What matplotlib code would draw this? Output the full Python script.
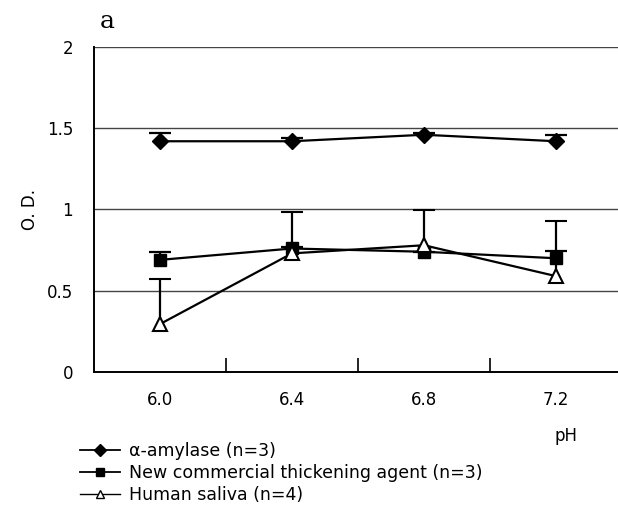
import matplotlib
matplotlib.use('Agg')
import matplotlib.pyplot as plt
from matplotlib.lines import Line2D
import numpy as np

# Daten
ph_werte = ['6.0', '6.4', '6.8', '7.2']
amylase = [1.42, 1.42, 1.46, 1.42]
amylase_err = [0.05, 0.02, 0.01, 0.04]
verdicker = [0.69, 0.76, 0.74, 0.70]
verdicker_err = [0.05, 0.01, 0.0, 0.045]
speichel = [0.295, 0.73, 0.78, 0.59]
speichel_err = [0.28, 0.255, 0.215, 0.34]

plt.rcParams['font.family'] = ['DejaVu Sans']

fig = plt.figure(figsize=(6.18, 5.07), dpi=100)
ax = fig.add_axes([94 / 618, (507 - 372) / 507, 528 / 618, 325 / 507])

x = np.arange(len(ph_werte))

# horizontale Gitterlinien
for yv in [0.5, 1.0, 1.5, 2.0]:
    ax.axhline(yv, color='#444444', lw=1.0, zorder=1)

kw = dict(color='black', lw=1.6, ecolor='black', elinewidth=1.6,
          capsize=8, capthick=1.6, zorder=3)
serien = [
    (amylase, amylase_err, dict(marker='D', ms=8, mfc='black', mec='black')),
    (verdicker, verdicker_err, dict(marker='s', ms=8, mfc='black', mec='black')),
    (speichel, speichel_err, dict(marker='^', ms=10, mfc='white', mec='black',
                                  mew=1.5)),
]
for werte, fehler, stil in serien:
    _, caps, _ = ax.errorbar(x, werte, yerr=[np.zeros(4), fehler],
                             **stil, **kw)
    # nur obere Kappe zeigen
    caps[0].set_visible(False)

ax.set_xlim(-0.5, 3.5)
ax.set_ylim(0, 2)
ax.set_yticks([0, 0.5, 1, 1.5, 2])
ax.set_yticklabels(['0', '0.5', '1', '1.5', '2'])
ax.set_xticks([0.5, 1.5, 2.5])
ax.set_xticklabels([])
ax.set_xticks(x, minor=True)
ax.set_xticklabels(ph_werte, minor=True)
ax.tick_params(axis='x', which='major', direction='in', length=10, width=1.2)
ax.tick_params(axis='x', which='minor', length=0, pad=14, labelsize=12)
ax.tick_params(axis='y', length=0, pad=15, labelsize=12)

for s in ['top', 'right']:
    ax.spines[s].set_visible(False)
for s in ['left', 'bottom']:
    ax.spines[s].set_linewidth(1.4)

fig.text(30 / 618, 1 - 210 / 507, 'O. D.', fontsize=12, rotation=90,
         ha='center', va='center')
fig.text(555 / 618, 1 - 436 / 507, 'pH', fontsize=12, ha='left', va='center')
fig.text(100 / 618, 1 - 22 / 507, 'a', fontsize=18, family='DejaVu Serif',
         ha='left', va='center')

# Legende mit eigenen Handles (ohne Fehlerbalken)
handles = [
    Line2D([], [], color='black', lw=1.3, marker='D', ms=6, mfc='black'),
    Line2D([], [], color='black', lw=1.3, marker='s', ms=6, mfc='black'),
    Line2D([], [], color='black', lw=1.0, marker='^', ms=6, mfc='white',
           mec='black'),
]
labels = ['α-amylase (n=3)', 'New commercial thickening agent (n=3)',
          'Human saliva (n=4)']
fig.legend(handles, labels, loc='upper left',
           bbox_to_anchor=(80 / 618, 1 - 442 / 507),
           frameon=False, fontsize=12.5, handlelength=2.3, handletextpad=0.5,
           labelspacing=0.22, borderpad=0, borderaxespad=0)

fig.savefig('out.png', dpi=100)
